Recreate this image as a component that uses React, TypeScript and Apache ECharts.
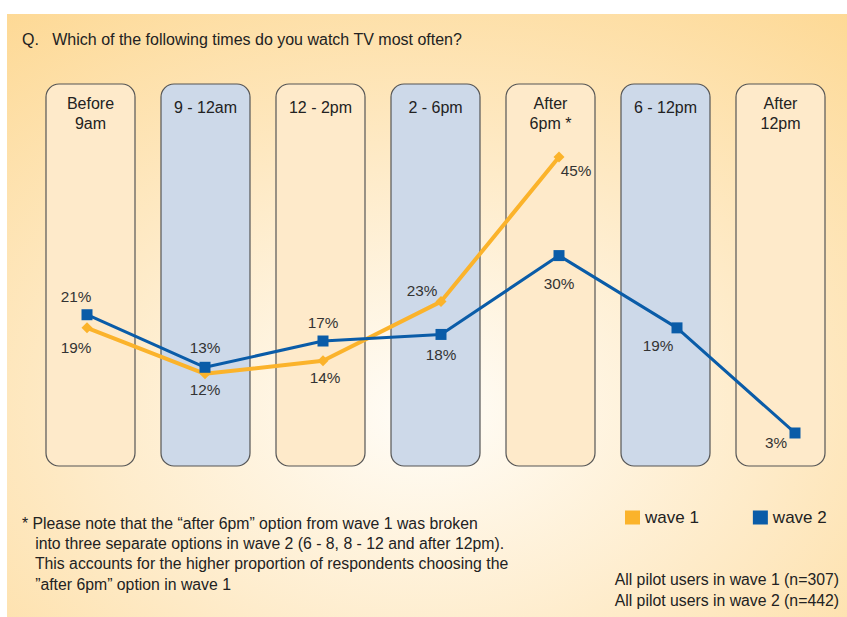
import React, { useEffect, useRef } from "react";
import * as echarts from "echarts";

const categories = ["Before 9am", "9 - 12am", "12 - 2pm", "2 - 6pm", "After 6pm *", "6 - 12pm", "After 12pm"];
const columnLabels = ["Before\n9am", "9 - 12am", "12 - 2pm", "2 - 6pm", "After\n6pm *", "6 - 12pm", "After\n12pm"];
const wave1 = [19, 12, 14, 23, 45, null, null];
const wave2 = [21, 13, 17, 18, 30, 19, 3];
const wave1Offsets = [[-11, 20], [0, 16], [2, 17], [-19, -11], [17, 13], [0, 0], [0, 0]];
const wave2Offsets = [[-11, -18], [0, -20], [0, -19], [0, 20], [0, 28], [-19, 18], [-19, 10]];

const titleText = "Q.   Which of the following times do you watch TV most often?";
const noteLines = [
  "* Please note that the \u201cafter 6pm\u201d option from wave 1 was broken",
  "   into three separate options in wave 2 (6 - 8, 8 - 12 and after 12pm).",
  "   This accounts for the higher proportion of respondents choosing the",
  "   \u201dafter 6pm\u201d option in wave 1",
];
const sampleLines = ["All pilot users in wave 1 (n=307)", "All pilot users in wave 2 (n=442)"];

const FONT = "'Liberation Sans', Arial, sans-serif";
const ORANGE = "#FBB32B";
const BLUE = "#0A5CA8";

export default function App() {
  const ref = useRef<HTMLDivElement>(null);
  useEffect(() => {
    if (!ref.current) return;
    const chart = echarts.init(ref.current, null, { renderer: "svg" });
    const labelStyle = { fontFamily: FONT, fontSize: 15.3, color: "#333" };
    const option: any = {
      animation: false,
      textStyle: { fontFamily: FONT },
      graphic: [
        {
          type: "rect",
          z: -100,
          silent: true,
          shape: { x: 7, y: 14, width: 840, height: 603 },
          style: {
            fill: new echarts.graphic.RadialGradient(0.5, 0.66, 0.95, [
              { offset: 0, color: "#fffdf8" },
              { offset: 0.45, color: "#feeac6" },
              { offset: 1, color: "#fdd487" },
            ]),
          },
        },
        {
          type: "text",
          left: 22,
          top: 31,
          style: { text: titleText, font: `16px ${FONT}`, fill: "#222" },
        },
        {
          type: "text",
          left: 22,
          top: 513,
          style: { text: noteLines.join("\n"), font: `15.8px ${FONT}`, lineHeight: 20.3, fill: "#222" },
        },
        {
          type: "text",
          right: 8,
          top: 569,
          style: { text: sampleLines.join("\n"), font: `15.8px ${FONT}`, lineHeight: 20.8, fill: "#222", align: "right" },
        },
      ],
      legend: {
        left: 620,
        top: 504,
        icon: "rect",
        itemWidth: 15,
        itemHeight: 14,
        itemGap: 54,
        textStyle: { fontFamily: FONT, fontSize: 17, color: "#222" },
        data: ["wave 1", "wave 2"],
      },
      grid: [
        { left: 87, right: 52, top: 124.2, bottom: 164.3 },
        { left: 33, right: 9, top: 84, bottom: 151 },
      ],
      xAxis: [
        { type: "category", data: categories, boundaryGap: false, show: false, gridIndex: 0 },
        { type: "category", data: categories, boundaryGap: true, show: false, gridIndex: 1 },
      ],
      yAxis: [
        { type: "value", min: 0, max: 50, show: false, gridIndex: 0 },
        { type: "value", min: 0, max: 1, show: false, gridIndex: 1 },
      ],
      series: [
        {
          type: "custom",
          xAxisIndex: 1,
          yAxisIndex: 1,
          z: 1,
          silent: true,
          data: categories.map((_, i) => [i, 1]),
          renderItem: (params: any, api: any) => {
            const idx = api.value(0);
            const cx = api.coord([idx, 0])[0];
            const cs = params.coordSys;
            const w = 89;
            const label = columnLabels[idx];
            const lines = label.split("\n").length;
            return {
              type: "group",
              children: [
                {
                  type: "rect",
                  shape: { x: cx - w / 2, y: cs.y, width: w, height: cs.height, r: 13 },
                  style: { fill: idx % 2 === 0 ? "#feeaca" : "#cdd9e9", stroke: "#555", lineWidth: 1.2 },
                },
                {
                  type: "text",
                  style: {
                    text: label,
                    x: cx,
                    y: cs.y + (lines === 1 ? 13 : 9),
                    align: "center",
                    verticalAlign: "top",
                    lineHeight: 20,
                    font: `16px ${FONT}`,
                    fill: "#222",
                  },
                },
              ],
            };
          },
        },
        {
          name: "wave 1",
          type: "line",
          z: 3,
          data: wave1.map((v, i) => ({
            value: v,
            label: { show: true, position: "inside", offset: wave1Offsets[i], formatter: "{c}%", ...labelStyle },
          })),
          color: ORANGE,
          lineStyle: { width: 4, color: ORANGE },
          symbol: "diamond",
          symbolSize: 11,
          itemStyle: { color: ORANGE },
        },
        {
          name: "wave 2",
          type: "line",
          z: 4,
          data: wave2.map((v, i) => ({
            value: v,
            label: { show: true, position: "inside", offset: wave2Offsets[i], formatter: "{c}%", ...labelStyle },
          })),
          color: BLUE,
          lineStyle: { width: 3, color: BLUE },
          symbol: "rect",
          symbolSize: 11,
          itemStyle: { color: BLUE },
        },
      ],
    };
    chart.setOption(option);
    return () => chart.dispose();
  }, []);
  return <div ref={ref} style={{ width: 847, height: 617, position: "absolute", left: 0, top: 0 }} />;
}
